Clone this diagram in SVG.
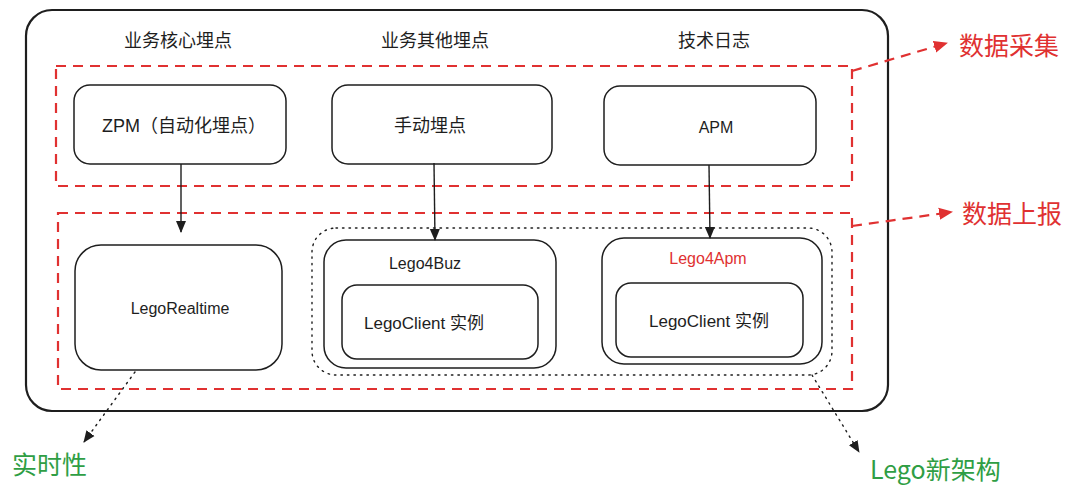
<svg xmlns="http://www.w3.org/2000/svg" width="1080" height="496" viewBox="0 0 1080 496">
<defs>
<style>
.box{fill:#fff;stroke:#1e1e1e;stroke-width:1.5}
.outer{fill:#fff;stroke:#1e1e1e;stroke-width:2.2}
.red{fill:none;stroke:#e03131;stroke-width:2.2;stroke-dasharray:10 7}
.dot{fill:none;stroke:#1e1e1e;stroke-width:1.4;stroke-dasharray:1.5 5;stroke-linecap:round}
.t{font-family:"Liberation Sans","Noto Sans CJK SC",sans-serif;font-size:16px;fill:#1e1e1e;text-anchor:middle;dominant-baseline:central}
.cn{font-size:18px}
.big{font-family:"Noto Sans CJK SC",sans-serif;font-size:25px;dominant-baseline:central}
.ln{stroke:#1e1e1e;stroke-width:1.4;fill:none}
</style>
<marker id="ah" markerWidth="12" markerHeight="12" refX="11" refY="6" orient="auto" markerUnits="userSpaceOnUse">
<path d="M0,1 L12,6 L0,11 Z" fill="#1e1e1e"/>
</marker>
<marker id="ahr" markerWidth="14" markerHeight="14" refX="13" refY="7" orient="auto" markerUnits="userSpaceOnUse">
<path d="M0,1 L14,7 L0,13 Z" fill="#e03131"/>
</marker>
</defs>
<g id="container">
<rect class="outer" x="26" y="10" width="862" height="401" rx="26"/>
<text class="t cn" x="178" y="41">业务核心埋点</text>
<text class="t cn" x="435" y="41">业务其他埋点</text>
<text class="t cn" x="714" y="41">技术日志</text>
</g>
<g id="collect-region">
<rect class="red" x="56" y="66" width="796" height="120"/>
</g>
<g id="report-region">
<rect class="red" x="58" y="213" width="794" height="176"/>
</g>
<g id="lego-group">
<rect class="dot" x="312" y="228" width="520" height="147" rx="24"/>
</g>
<g id="zpm">
<rect class="box" x="74" y="85" width="212" height="79" rx="16"/>
<text class="t cn" x="184" y="126">ZPM（自动化埋点）</text>
</g>
<g id="manual">
<rect class="box" x="332" y="85" width="220" height="79" rx="16"/>
<text class="t cn" x="430" y="126">手动埋点</text>
</g>
<g id="apm">
<rect class="box" x="604" y="86" width="212" height="79" rx="16"/>
<text class="t" x="716" y="127">APM</text>
</g>
<g id="legorealtime">
<rect class="box" x="75" y="245" width="207" height="125" rx="26"/>
<text class="t" x="180" y="308">LegoRealtime</text>
</g>
<g id="lego4buz">
<rect class="box" x="324" y="240" width="232" height="128" rx="22"/>
<text class="t" x="425" y="263">Lego4Buz</text>
</g>
<g id="client-buz">
<rect class="box" x="342" y="285" width="196" height="74" rx="15"/>
<text class="t" x="424" y="323" style="font-size:17px">LegoClient 实例</text>
</g>
<g id="lego4apm">
<rect class="box" x="602" y="238" width="220" height="126" rx="22"/>
<text class="t" x="708" y="258" style="fill:#e03131">Lego4Apm</text>
</g>
<g id="client-apm">
<rect class="box" x="616" y="283" width="187" height="74" rx="15"/>
<text class="t" x="709" y="321" style="font-size:17px">LegoClient 实例</text>
</g>
<g id="labels">
<text class="big" x="959" y="44" fill="#e03131">数据采集</text>
<text class="big" x="962" y="212" fill="#e03131">数据上报</text>
<text class="big" x="12" y="463" fill="#2f9e44">实时性</text>
<text class="big" x="870" y="468" fill="#2f9e44">Lego新架构</text>
</g>
<g id="connectors">
<line class="ln" x1="181" y1="164" x2="181" y2="232" marker-end="url(#ah)"/>
<line class="ln" x1="434" y1="163" x2="435" y2="240" marker-end="url(#ah)"/>
<line class="ln" x1="709" y1="165" x2="710" y2="238" marker-end="url(#ah)"/>
<line x1="852" y1="71" x2="947" y2="43" stroke="#e03131" stroke-width="2.2" stroke-dasharray="10 7" marker-end="url(#ahr)"/>
<line x1="852" y1="226" x2="952" y2="212" stroke="#e03131" stroke-width="2.2" stroke-dasharray="10 7" marker-end="url(#ahr)"/>
<line class="dot" x1="135" y1="372" x2="84" y2="442" marker-end="url(#ah)"/>
<line class="dot" x1="812" y1="375" x2="859" y2="452" marker-end="url(#ah)"/>
</g>
</svg>
